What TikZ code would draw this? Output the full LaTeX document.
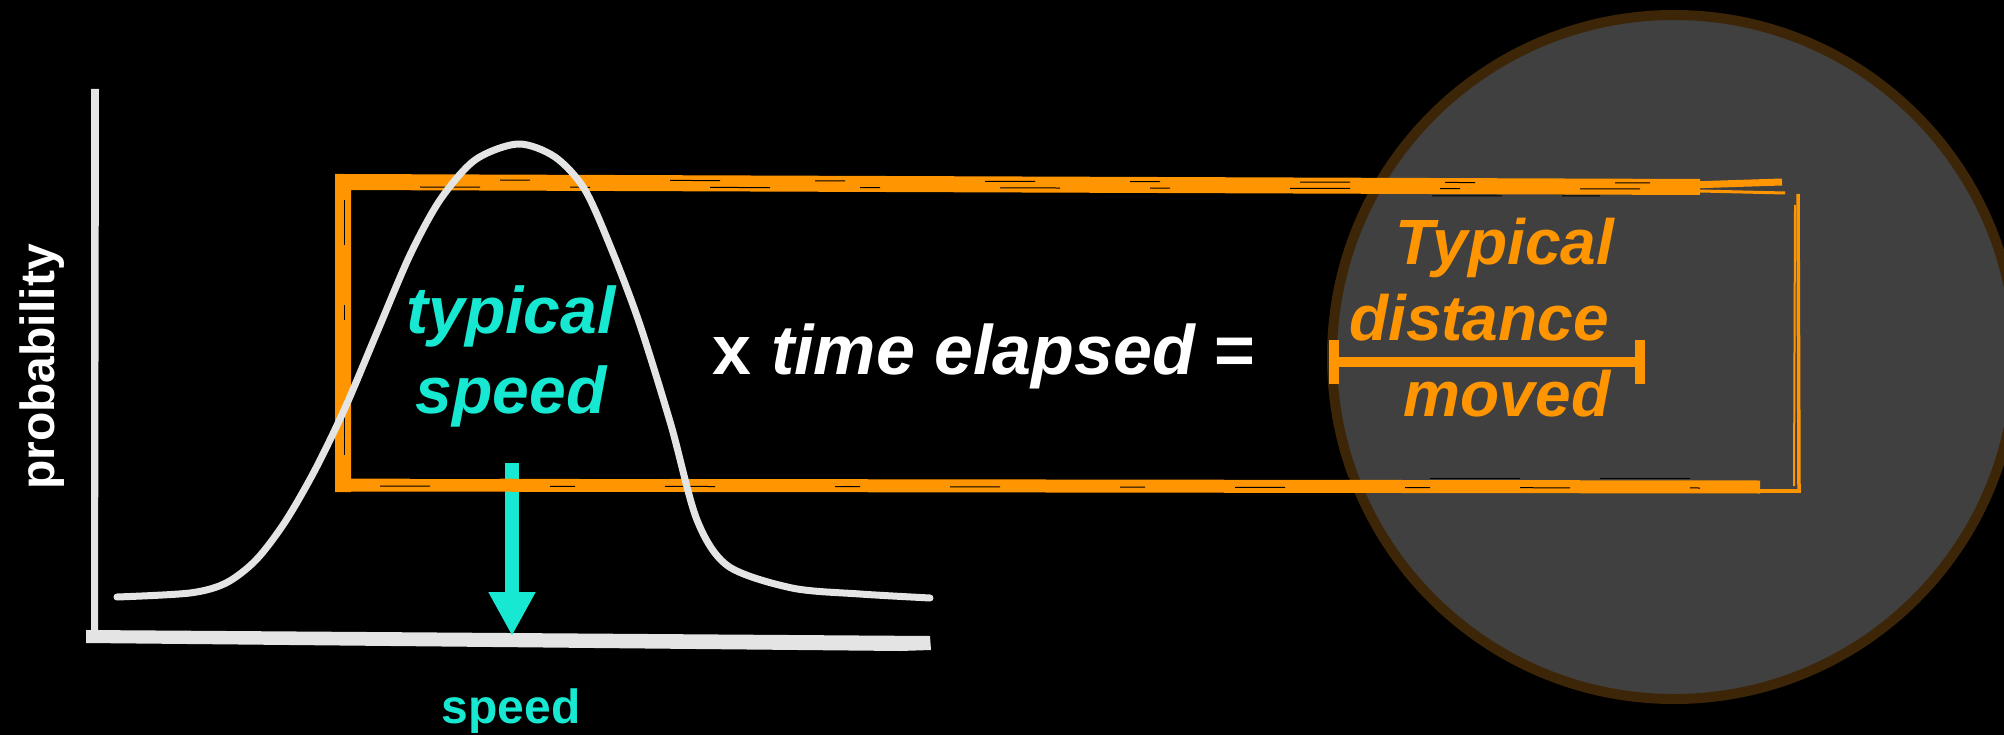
\documentclass[tikz,border=0pt]{standalone}
\usepackage{fontspec}
\setmainfont{Liberation Sans}
\usetikzlibrary{arrows.meta}
\definecolor{org}{HTML}{FF9500}
\definecolor{tealc}{HTML}{17E8D2}
\definecolor{circfill}{HTML}{404040}
\definecolor{circline}{HTML}{3D2508}
\definecolor{chalk}{HTML}{E4E4E4}
\tikzset{
  chalkline/.style={draw=chalk, line cap=round, line join=round},
  orgline/.style={draw=org, line cap=butt},
  streak/.style={draw=black, line width=1pt},
  bigtxt/.style={inner sep=0pt, anchor=base, font=\fontsize{66}{78}\selectfont\bfseries\itshape},
  orgtxt/.style={inner sep=0pt, anchor=base, text=org, font=\fontsize{64}{76}\selectfont\bfseries\itshape},
  labtxt/.style={inner sep=0pt, anchor=base, font=\fontsize{48}{56}\selectfont\bfseries},
}
\begin{document}
\begin{tikzpicture}[x=1pt,y=-1pt]
\useasboundingbox (0,0) rectangle (2004,735);
\fill[black] (0,0) rectangle (2004,735);
\clip (0,0) rectangle (2004,735);

% circle
\node[circle, draw=circline, fill=circfill, line width=10pt, minimum size=684pt, inner sep=0pt] (disc) at (1674,357) {};

% axes
\fill[chalk] (91,89) -- (99,89) -- (98,632) -- (91,638) -- cycle;
\fill[chalk] (86,630) -- (930,636) -- (931,650) -- (900,651) -- (86,643) -- cycle;
\coordinate (axO) at (93,636);

% arrow
\coordinate (arrS) at (512,463);
\coordinate (arrE) at (512,636);
\draw[tealc, line width=14pt, -{Triangle[length=44pt,width=44pt]}] (arrS) -- (arrE);

% orange sketchy rectangle
\draw[orgline, line width=16pt] (343,492) -- (343,182) -- (1700,187);
\draw[orgline, line width=7pt] (1690,185) -- (1782,182);
\draw[orgline, line width=3pt] (1700,191) -- (1785,193);
\draw[orgline, line width=13pt] (336,485) -- (1760,487);
\draw[orgline, line width=4pt] (1600,491) -- (1801,491);
\draw[orgline, line width=3.5pt] (1799,492) -- (1798,194);
\draw[orgline, line width=2pt] (1794,486) -- (1795,205);
% streaks for a rough look
\draw[streak, dash pattern=on 60pt off 90pt on 20pt off 120pt] (420,187) -- (1690,189);
\draw[streak, dash pattern=on 30pt off 140pt on 50pt off 95pt] (500,180) -- (1650,183);
\draw[streak, dash pattern=on 45pt off 60pt on 15pt off 90pt] (344,200) -- (344,470);
\draw[streak, dash pattern=on 50pt off 120pt on 25pt off 90pt] (380,486) -- (1700,488);
\draw[streak, dash pattern=on 70pt off 60pt on 40pt off 100pt] (352,195) -- (1600,196);
\draw[streak, dash pattern=on 90pt off 80pt] (352,196) -- (352,478) -- (1700,478);

% bell curve
\draw[chalkline, line width=7pt] plot[smooth, tension=0.5] coordinates {
  (117,597) (190,593) (226,583) (256,560) (285,522) (315,470) (345,408) (378,330)
  (410,255) (440,200) (475,160) (518,144) (555,157) (585,190) (613,253)
  (640,325) (671,425) (697,520) (728,566) (792,588) (860,594) (930,598)};

% texts
\node[bigtxt, text=tealc] (typ) at (511,333) {typical};
\node[bigtxt, text=tealc] (spd) at (511,413) {speed};
\node[inner sep=0pt, anchor=base, text=white, font=\fontsize{70}{82}\selectfont\bfseries] (eq) at (984,374) {x \itshape time elapsed \upshape=};
\node[orgtxt] (t1) at (1505,265) {Typical};
\node[orgtxt] (t2) at (1479,340) {distance};
\node[orgtxt] (t3) at (1507,416) {moved};
\node[labtxt, text=white, rotate=90] (prob) at (54,367) {probability};
\node[labtxt, text=tealc] (spdax) at (511,723) {speed};

% distance bar
\coordinate (barL) at (1334,362);
\coordinate (barR) at (1640,362);
\draw[org, line width=10pt] (barL) -- (barR);
\draw[org, line width=10pt] ([yshift=-22pt]barL) -- ([yshift=22pt]barL);
\draw[org, line width=10pt] ([yshift=-22pt]barR) -- ([yshift=22pt]barR);
\end{tikzpicture}
\end{document}
